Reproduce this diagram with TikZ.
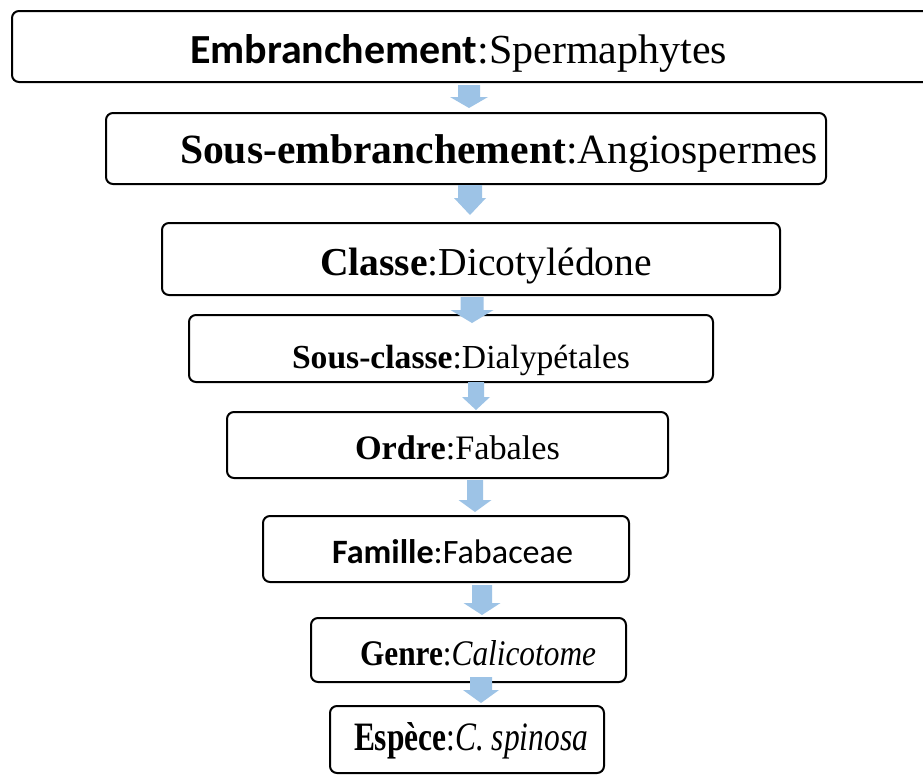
\documentclass[tikz,border=0pt]{standalone}
\usepackage{fontspec}
\setmainfont{Liberation Serif}
\newfontfamily\calib{Carlito}
\usepackage{graphicx}
\definecolor{arrowblue}{RGB}{157,195,230}
\tikzset{
  box/.style={draw=black, line width=2pt, rounded corners=7pt, inner sep=0pt, outer sep=0pt},
  lbl/.style={anchor=base west, inner sep=0pt, outer sep=0pt, font=\fontsize{30}{36}\selectfont},
  arrowfill/.style={fill=arrowblue}
}
\newcommand{\blkarrow}[6]{\fill[arrowfill] (#1-#5,#2) -- (#1+#5,#2) -- (#1+#5,#3) -- (#1+#6,#3) -- (#1,#4) -- (#1-#6,#3) -- (#1-#5,#3) -- cycle;}
\begin{document}
\begin{tikzpicture}[x=1pt,y=-1pt]
\useasboundingbox (0,0) rectangle (923,774);
\fill[white] (0,0) rectangle (923,774);
% boxes
\node[box, minimum width=923pt, minimum height=71pt] (b1) at (473.5,46.5) {};
\node[box, minimum width=720pt, minimum height=71pt] (b2) at (466,148.5) {};
\node[box, minimum width=618pt, minimum height=72pt] (b3) at (471,259) {};
\node[box, minimum width=524pt, minimum height=67pt] (b4) at (451,348.5) {};
\node[box, minimum width=441pt, minimum height=66pt] (b5) at (447.5,445) {};
\node[box, minimum width=366pt, minimum height=66pt] (b6) at (446,549) {};
\node[box, minimum width=315pt, minimum height=64pt] (b7) at (468.5,650) {};
\node[box, minimum width=274pt, minimum height=67pt] (b8) at (467,739.5) {};
% labels
\node[lbl] (t1) at (190,63) {\resizebox{537pt}{29pt}{{\calib\bfseries Embranchement}:Spermaphytes}};
\node[lbl] (t2) at (180,163) {\resizebox{638pt}{!}{{\bfseries Sous-embranchement}:Angiospermes}};
\node[lbl] (t3) at (320,275) {\resizebox{332pt}{!}{{\bfseries Classe}:Dicotylédone}};
\node[lbl] (t4) at (292,368) {\resizebox{338pt}{!}{{\bfseries Sous-classe}:Dialypétales}};
\node[lbl] (t5) at (355,459) {\resizebox{205pt}{!}{{\bfseries Ordre}:Fabales}};
\node[lbl] (t6) at (332,563) {\resizebox{241pt}{!}{\calib{\bfseries Famille}:Fabaceae}};
\node[lbl] (t7) at (360,665) {\resizebox{236pt}{25pt}{{\bfseries Genre}:\textit{Calicotome}}};
\node[lbl] (t8) at (354,750) {\resizebox{234pt}{28pt}{{\bfseries Espèce}:\textit{C. spinosa}}};
% block arrows
\blkarrow{469}{85}{97}{108}{11}{19}
\blkarrow{470}{185}{198}{215}{12}{16}
\blkarrow{472}{297}{310}{323}{11.5}{21.5}
\blkarrow{476}{382}{397}{410}{8}{14}
\blkarrow{475}{480}{500}{512}{8}{16.5}
\blkarrow{482}{585}{603}{615}{10}{18.5}
\blkarrow{481}{677}{690}{703}{11}{18}
\end{tikzpicture}
\end{document}
